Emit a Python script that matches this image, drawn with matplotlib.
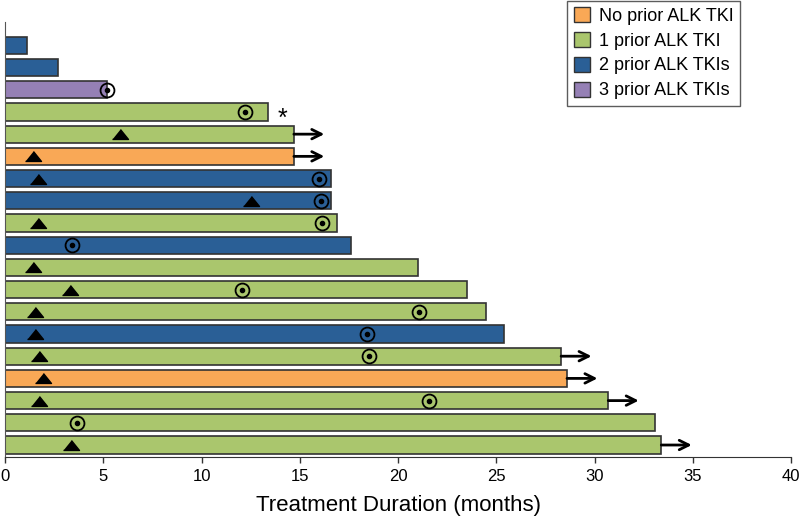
import numpy as np
import matplotlib
matplotlib.use("Agg")
import matplotlib.pyplot as plt
from matplotlib.patches import Patch

plt.rcParams['font.family'] = ['Liberation Sans', 'DejaVu Sans']

# one entry per patient, top bar first
durations = [1.1, 2.7, 5.2, 13.4, 14.7, 14.7, 16.6, 16.6, 16.9, 17.6,
             21.0, 23.5, 24.5, 25.4, 28.3, 28.6, 30.7, 33.1, 33.4]
groups = [2, 2, 3, 1, 1, 0, 2, 2, 1, 2, 1, 1, 1, 2, 1, 0, 1, 1, 1]
triangles = [None, None, None, None, 5.85, 1.45, 1.7, 12.5, 1.7, None,
             1.45, 3.3, 1.55, 1.55, 1.73, 1.93, 1.73, None, 3.34]
circles = [None, None, 5.2, 12.2, None, None, 16.0, 16.1, 16.15, 3.4,
           None, 12.05, 21.06, 18.4, 18.5, None, 21.6, 3.68, None]
ongoing = [False, False, False, False, True, True, False, False, False, False,
           False, False, False, False, True, True, True, False, True]
asterisk = [False, False, False, True] + [False] * 15

group_labels = ['No prior ALK TKI', '1 prior ALK TKI', '2 prior ALK TKIs', '3 prior ALK TKIs']
group_colors = ['#F9A856', '#AAC66D', '#2A5F96', '#9580B5']
xticks = [0, 5, 10, 15, 20, 25, 30, 35, 40]

n = len(durations)
ypos = np.arange(n)[::-1]

fig = plt.figure(figsize=(8.0, 5.17), dpi=100)
ax = fig.add_axes([0.00625, 0.1166, 0.9825, 0.8408])

cols = [group_colors[g] for g in groups]
ax.barh(ypos, durations, height=0.77, color=cols, edgecolor='#333333', linewidth=1.2, zorder=2)

# flattened triangle marker
tri = [(-1, -0.62), (1, -0.62), (0, 0.62)]
for y, t in zip(ypos, triangles):
    if t is not None:
        ax.plot(t, y, marker=tri, markersize=11.5, color='black', linestyle='none', zorder=4)

for y, c in zip(ypos, circles):
    if c is not None:
        ax.plot(c, y, marker='o', markersize=10, markerfacecolor='none',
                markeredgecolor='black', markeredgewidth=1.3, linestyle='none', zorder=4)
        ax.plot(c, y, marker='o', markersize=3, color='black', linestyle='none', zorder=5)

for y, d, o in zip(ypos, durations, ongoing):
    if o:
        ax.annotate('', xy=(d + 1.55, y), xytext=(d, y),
                    arrowprops=dict(arrowstyle='->', lw=2, color='black',
                                    mutation_scale=17, shrinkA=0, shrinkB=0),
                    zorder=3)

for y, d, a in zip(ypos, durations, asterisk):
    if a:
        ax.text(d + 0.7, y - 0.3, '*', fontsize=18, ha='center', va='center')

ax.set_xlim(0, 40)
ax.set_ylim(-0.527, n + 0.05)
ax.set_xticks(xticks)
ax.set_yticks([])
ax.tick_params(axis='x', direction='out', length=4, width=1, labelsize=12, colors='#333333', labelcolor='black', pad=5)
for s in ['top', 'right']:
    ax.spines[s].set_visible(False)
ax.spines['left'].set_color('#555555')
ax.spines['bottom'].set_color('#333333')
ax.set_xlabel('Treatment Duration (months)', fontsize=16, labelpad=8)

handles = [Patch(facecolor=c, edgecolor='#333333', label=l) for c, l in zip(group_colors, group_labels)]
leg = fig.legend(handles=handles, loc='upper right', bbox_to_anchor=(0.925, 0.999),
                 fontsize=13, frameon=True, fancybox=False, edgecolor='#333333',
                 handlelength=0.9, handleheight=0.9, handletextpad=0.5,
                 labelspacing=0.4, borderpad=0.35, borderaxespad=0)
leg.get_frame().set_linewidth(1.0)

fig.savefig('out.png', dpi=100)
